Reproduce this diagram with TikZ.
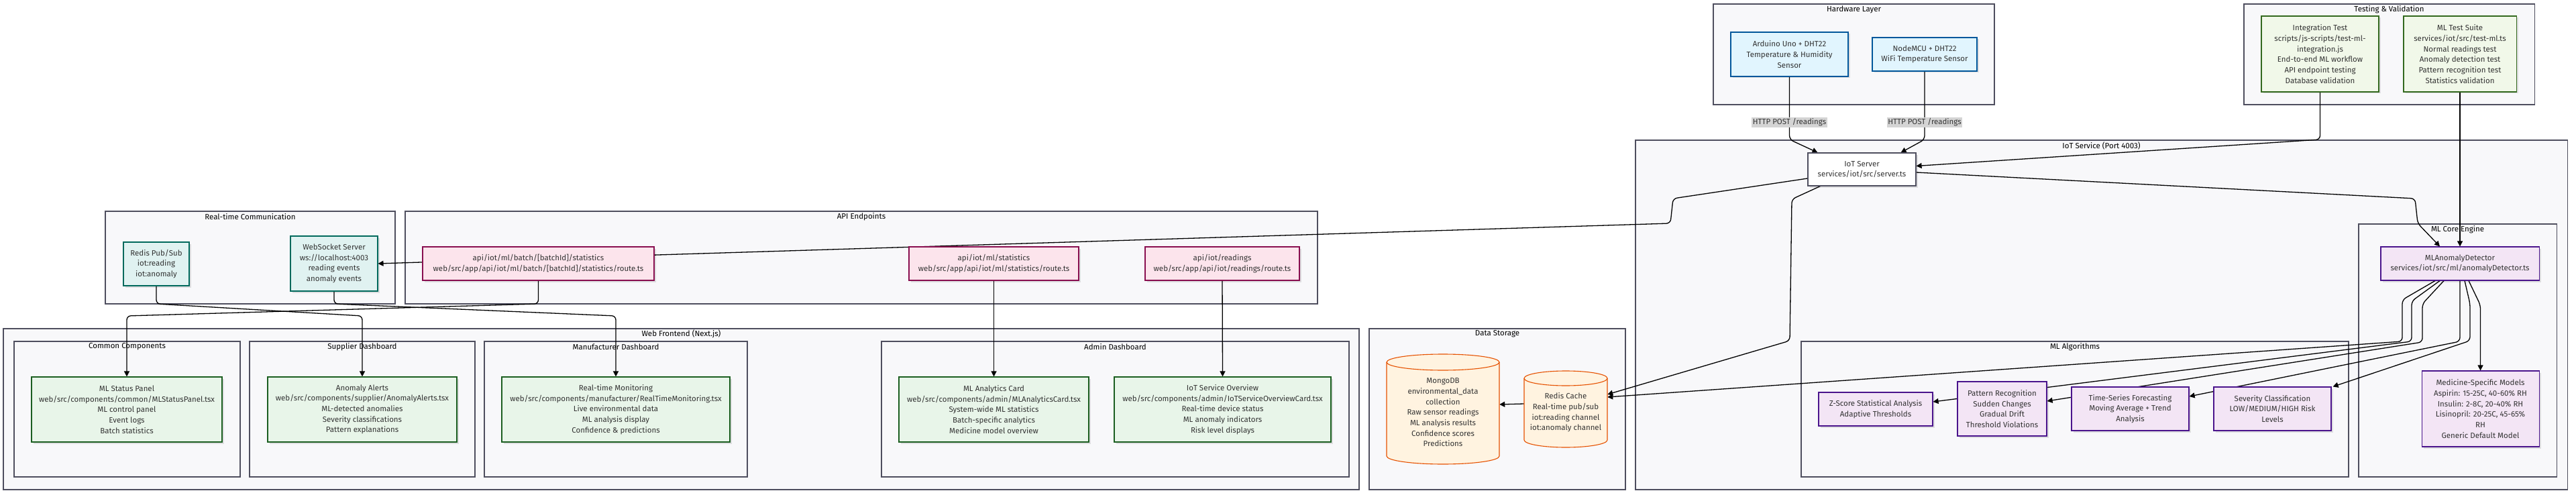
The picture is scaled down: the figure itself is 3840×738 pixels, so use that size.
\documentclass[tikz,border=0pt]{standalone}
\usepackage{fontspec}
\setmainfont{Fira Sans}
\usepackage{tikz}
\usetikzlibrary{positioning, arrows.meta, shadows, calc}

\definecolor{TextColor}{RGB}{51,51,51}
\definecolor{ClusterFill}{RGB}{248,248,250}
\definecolor{ClusterLine}{RGB}{78,78,94}
\definecolor{HwFill}{RGB}{225,245,254}
\definecolor{HwLine}{RGB}{1,87,155}
\definecolor{RtFill}{RGB}{224,242,241}
\definecolor{RtLine}{RGB}{0,105,92}
\definecolor{ApiFill}{RGB}{252,228,236}
\definecolor{ApiLine}{RGB}{136,14,79}
\definecolor{UiFill}{RGB}{232,245,233}
\definecolor{UiLine}{RGB}{27,94,32}
\definecolor{TestFill}{RGB}{241,248,233}
\definecolor{TestLine}{RGB}{51,105,30}
\definecolor{MlFill}{RGB}{243,229,245}
\definecolor{MlLine}{RGB}{74,20,140}
\definecolor{DbFill}{RGB}{255,243,224}
\definecolor{DbLine}{RGB}{230,81,0}
\definecolor{LabelFill}{RGB}{212,212,212}

\newcommand{\diagfont}{\fontsize{11.5}{15.7}\selectfont}

\pgfdeclarelayer{bg}
\pgfdeclarelayer{edges}
\pgfsetlayers{bg,edges,main}

\tikzstyle{arrow} = [line width=1.3pt, black, rounded corners=6pt, -{Triangle[length=8pt,width=8pt]}]
\tikzstyle{box} = [draw, line width=1.1pt, align=center, text=TextColor, inner sep=1pt, font=\diagfont, drop shadow={shadow xshift=2.5pt, shadow yshift=-2.5pt, opacity=0.1, fill=black}]
\tikzstyle{hwbox} = [box, fill=HwFill, draw=HwLine]
\tikzstyle{rtbox} = [box, fill=RtFill, draw=RtLine]
\tikzstyle{apibox} = [box, fill=ApiFill, draw=ApiLine]
\tikzstyle{uibox} = [box, fill=UiFill, draw=UiLine]
\tikzstyle{testbox} = [box, fill=TestFill, draw=TestLine]
\tikzstyle{mlbox} = [box, fill=MlFill, draw=MlLine]
\tikzstyle{serverbox} = [box, fill=white, draw=ClusterLine]
\tikzstyle{dbshape} = [fill=DbFill, draw=DbLine, line width=1.1pt]
\tikzstyle{dbtext} = [align=center, text=TextColor, inner sep=0pt, font=\diagfont]
\tikzstyle{cluster} = [draw=ClusterLine, fill=ClusterFill, line width=1.1pt]
\tikzstyle{clustertitle} = [text=black, inner sep=0pt, font=\diagfont]
\tikzstyle{edgelabel} = [fill=LabelFill, text=TextColor, inner sep=1.5pt, font=\diagfont]

\begin{document}
\begin{tikzpicture}[x=1pt, y=-1pt]
\useasboundingbox (0,0) rectangle (3840,738);

% groups
\begin{pgfonlayer}{bg}
\draw[cluster] (2554,6) rectangle (2973,156);
\node[clustertitle] (ttlhardware) at (2763.5,14) {Hardware Layer};
\draw[cluster] (3345,6) rectangle (3778,156);
\node[clustertitle] (ttltesting) at (3561.5,14) {Testing \& Validation};
\draw[cluster] (2438,209) rectangle (3827,730);
\node[clustertitle] (ttliot) at (3132.5,217) {IoT Service (Port 4003)};
\draw[cluster] (3516,334) rectangle (3811,711);
\node[clustertitle] (ttlcore) at (3663.5,342) {ML Core Engine};
\draw[cluster] (2685,509) rectangle (3501,711);
\node[clustertitle] (ttlalgo) at (3093,517) {ML Algorithms};
\draw[cluster] (2041,490) rectangle (2423,730);
\node[clustertitle] (ttlstorage) at (2232,498) {Data Storage};
\draw[cluster] (157,315) rectangle (589,453);
\node[clustertitle] (ttlrealtime) at (373,323) {Real-time Communication};
\draw[cluster] (604,315) rectangle (1964,453);
\node[clustertitle] (ttlapi) at (1284,323) {API Endpoints};
\draw[cluster] (5,490) rectangle (2026,730);
\node[clustertitle] (ttlweb) at (1015.5,498) {Web Frontend (Next.js)};
\draw[cluster] (21,509) rectangle (358,711);
\node[clustertitle] (ttlcommon) at (189.5,517) {Common Components};
\draw[cluster] (372,509) rectangle (708,711);
\node[clustertitle] (ttlsupplier) at (540,517) {Supplier Dashboard};
\draw[cluster] (722,509) rectangle (1114,711);
\node[clustertitle] (ttlmanufacturer) at (918,517) {Manufacturer Dashboard};
\draw[cluster] (1314,509) rectangle (2011,711);
\node[clustertitle] (ttladmin) at (1662.5,517) {Admin Dashboard};
\end{pgfonlayer}

% hardware and tests
\node[hwbox, minimum width=175, minimum height=66] (arduino) at (2667.5,81) {Arduino Uno + DHT22\\Temperature \& Humidity\\Sensor};
\node[hwbox, minimum width=156, minimum height=50] (nodemcu) at (2869,81) {NodeMCU + DHT22\\WiFi Temperature Sensor};
\node[testbox, minimum width=175, minimum height=113] (inttest) at (3458.5,80.5) {Integration Test\\scripts/js-scripts/test-ml-\\integration.js\\End-to-end ML workflow\\API endpoint testing\\Database validation};
\node[testbox, minimum width=168, minimum height=113] (mltest) at (3667,80.5) {ML Test Suite\\services/iot/src/test-ml.ts\\Normal readings test\\Anomaly detection test\\Pattern recognition test\\Statistics validation};

% iot service
\node[serverbox, minimum width=161, minimum height=49] (iotserver) at (2775.5,252.5) {IoT Server\\services/iot/src/server.ts};
\node[mlbox, minimum width=236, minimum height=50] (detector) at (3667,393) {MLAnomalyDetector\\services/iot/src/ml/anomalyDetector.ts};
\node[mlbox, minimum width=175, minimum height=113] (models) at (3697.5,609.5) {Medicine-Specific Models\\Aspirin: 15-25C, 40-60\% RH\\Insulin: 2-8C, 20-40\% RH\\Lisinopril: 20-25C, 45-65\%\\RH\\Generic Default Model};
\node[mlbox, minimum width=170, minimum height=50] (zscore) at (2796,610) {Z-Score Statistical Analysis\\Adaptive Thresholds};
\node[mlbox, minimum width=133, minimum height=81] (pattern) at (2984.5,609.5) {Pattern Recognition\\Sudden Changes\\Gradual Drift\\Threshold Violations};
\node[mlbox, minimum width=175, minimum height=65] (timeseries) at (3175.5,609.5) {Time-Series Forecasting\\Moving Average + Trend\\Analysis};
\node[mlbox, minimum width=175, minimum height=65] (severity) at (3387.5,609.5) {Severity Classification\\LOW/MEDIUM/HIGH Risk\\Levels};

% storage
\filldraw[dbshape] (2067,540) -- (2067,680) arc[start angle=180, end angle=360, x radius=84pt, y radius=12pt] -- (2235,540) arc[start angle=0, end angle=180, x radius=84pt, y radius=12pt] -- cycle;
\draw[dbshape, fill=none] (2067,540) arc[start angle=180, end angle=360, x radius=84pt, y radius=12pt];
\node[dbtext, minimum width=168, minimum height=154] (mongodb) at (2151,615) {MongoDB\\environmental\_data\\collection\\Raw sensor readings\\ML analysis results\\Confidence scores\\Predictions};
\filldraw[dbshape] (2272,564) -- (2272,656) arc[start angle=180, end angle=360, x radius=62pt, y radius=11pt] -- (2396,564) arc[start angle=0, end angle=180, x radius=62pt, y radius=11pt] -- cycle;
\draw[dbshape, fill=none] (2272,564) arc[start angle=180, end angle=360, x radius=62pt, y radius=11pt];
\node[dbtext, minimum width=124, minimum height=104] (rediscache) at (2334,615) {Redis Cache\\Real-time pub/sub\\iot:reading channel\\iot:anomaly channel};

% realtime and api
\node[rtbox, minimum width=98, minimum height=65] (redispubsub) at (233,393.5) {Redis Pub/Sub\\iot:reading\\iot:anomaly};
\node[rtbox, minimum width=130, minimum height=82] (websocket) at (498,393) {WebSocket Server\\ws://localhost:4003\\reading events\\anomaly events};
\node[apibox, minimum width=345, minimum height=50] (batchstats) at (802.5,393) {api/iot/ml/batch/[batchId]/statistics\\web/src/app/api/iot/ml/batch/[batchId]/statistics/route.ts};
\node[apibox, minimum width=253, minimum height=50] (mlstats) at (1481.5,393) {api/iot/ml/statistics\\web/src/app/api/iot/ml/statistics/route.ts};
\node[apibox, minimum width=230, minimum height=50] (readings) at (1822,393) {api/iot/readings\\web/src/app/api/iot/readings/route.ts};

% frontend
\node[uibox, minimum width=284, minimum height=97] (mlstatus) at (189,610.5) {ML Status Panel\\web/src/components/common/MLStatusPanel.tsx\\ML control panel\\Event logs\\Batch statistics};
\node[uibox, minimum width=282, minimum height=97] (alerts) at (540,610.5) {Anomaly Alerts\\web/src/components/supplier/AnomalyAlerts.tsx\\ML-detected anomalies\\Severity classifications\\Pattern explanations};
\node[uibox, minimum width=340, minimum height=97] (monitoring) at (918,610.5) {Real-time Monitoring\\web/src/components/manufacturer/RealTimeMonitoring.tsx\\Live environmental data\\ML analysis display\\Confidence \& predictions};
\node[uibox, minimum width=283, minimum height=97] (mlcard) at (1481.5,610.5) {ML Analytics Card\\web/src/components/admin/MLAnalyticsCard.tsx\\System-wide ML statistics\\Batch-specific analytics\\Medicine model overview};
\node[uibox, minimum width=323, minimum height=97] (overview) at (1822.5,610.5) {IoT Service Overview\\web/src/components/admin/IoTServiceOverviewCard.tsx\\Real-time device status\\ML anomaly indicators\\Risk level displays};

% connectors
\begin{pgfonlayer}{edges}
\draw[arrow] (arduino.south) -- (2667.5,208) -- ([xshift=-66pt]iotserver.north);
\draw[arrow] (nodemcu.south) -- (2869,208) -- ([xshift=58pt]iotserver.north);
\draw[arrow] (inttest.south) -- (3458.5,208) -- ([yshift=5pt]iotserver.east);
\draw[arrow] (mltest.south) -- (detector.north);
\draw[arrow] ([yshift=-4.5pt]iotserver.east) -- (3600,296) -- (3604,333) -- ([xshift=-30pt]detector.north);
\draw[arrow] ([yshift=-13.5pt]iotserver.west) -- (2494,296) -- (2490,333) -- (websocket.east);
\draw[arrow] ([xshift=19pt]iotserver.south west) -- (2671,297) -- (2668,508) -- ([yshift=27pt]rediscache.east);
\draw[arrow] ([xshift=-37pt]detector.south) -- (3581,447) -- (3581,509) -- ([yshift=23pt]rediscache.east);
\draw[arrow] ([xshift=-30pt]detector.south) -- (3595,449) -- (3595,509) -- ([yshift=11pt]zscore.east);
\draw[arrow] ([xshift=-24pt]detector.south) -- (3611,453) -- (3611,510) -- ([yshift=11.5pt]pattern.east);
\draw[arrow] (detector.south) -- (3667,509) -- ([yshift=18.5pt]timeseries.east);
\draw[arrow] ([xshift=7pt]detector.south) -- (3682,453) -- (3682,508) -- ([xshift=2pt]severity.north east);
\draw[arrow] ([xshift=13pt]detector.south) -- (3697.5,455) -- (models.north);
\draw[arrow] ([yshift=13pt]rediscache.west) -- ([yshift=12pt]mongodb.east);
\draw[arrow] (redispubsub.south) -- (233,453) -- (540,471) -- (alerts.north);
\draw[arrow] (websocket.south) -- (498,453) -- (918,471) -- (monitoring.north);
\draw[arrow] (batchstats.south) -- (802.5,453) -- (189,471) -- (mlstatus.north);
\draw[arrow] (mlstats.south) -- (mlcard.north);
\draw[arrow] (readings.south) -- (overview.north);
\end{pgfonlayer}

% labels
\node[edgelabel] (postuno) at (2667.5,182.5) {HTTP POST /readings};
\node[edgelabel] (postmcu) at (2869,182.5) {HTTP POST /readings};
\end{tikzpicture}
\end{document}
